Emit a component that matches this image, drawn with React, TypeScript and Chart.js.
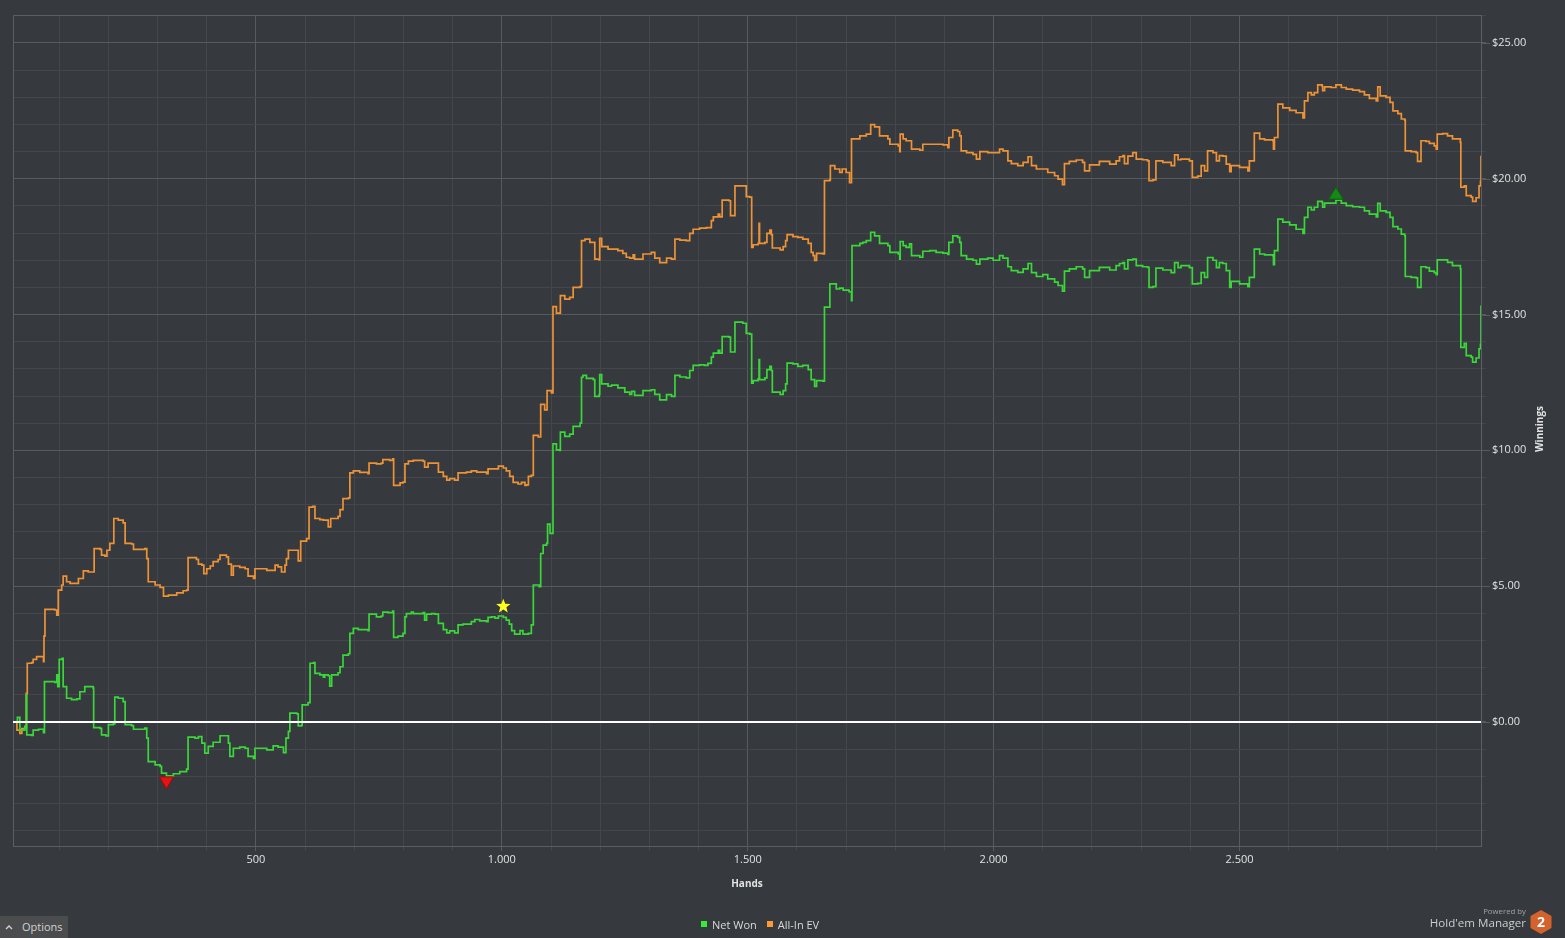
import React, { useEffect, useRef } from 'react';
import { Chart, registerables } from 'chart.js';

Chart.register(...registerables);

// ---- Data ----
const netHands = [7,15,20,30,33,34,44,47,58,68,70,91,95,97,100,106,108,115,125,136,142,152,169,170,183,186,195,200,210,213,220,230,234,247,251,264,274,278,281,295,305,308,318,332,345,359,362,376,383,390,396,403,413,427,437,444,447,454,467,478,484,495,498,522,535,545,556,561,566,569,583,586,593,594,606,610,617,620,630,637,640,647,650,654,667,671,677,688,691,698,708,728,730,745,755,758,769,778,780,789,799,803,806,816,820,840,843,847,857,864,871,881,888,894,904,911,921,938,945,955,969,972,979,986,993,1003,1009,1015,1020,1026,1037,1043,1054,1060,1064,1076,1079,1084,1091,1093,1098,1101,1104,1111,1118,1119,1128,1138,1145,1159,1162,1165,1172,1186,1189,1198,1199,1203,1216,1223,1236,1250,1260,1264,1270,1287,1304,1311,1321,1335,1345,1352,1362,1375,1382,1389,1402,1412,1419,1426,1430,1440,1443,1448,1462,1465,1472,1474,1484,1490,1497,1504,1508,1511,1521,1523,1524,1535,1539,1545,1548,1550,1562,1566,1572,1577,1580,1592,1602,1612,1623,1629,1636,1640,1653,1656,1667,1680,1687,1694,1706,1711,1712,1728,1734,1741,1750,1758,1768,1785,1789,1799,1806,1809,1810,1816,1822,1829,1833,1850,1856,1870,1883,1897,1907,1909,1917,1927,1931,1934,1945,1958,1965,1972,1988,1999,2012,2019,2029,2036,2049,2060,2070,2077,2087,2100,2110,2124,2131,2140,2144,2154,2168,2181,2185,2191,2195,2215,2236,2249,2256,2263,2266,2273,2283,2290,2303,2313,2316,2324,2330,2344,2361,2368,2375,2381,2398,2404,2415,2422,2429,2435,2446,2453,2459,2466,2473,2480,2483,2500,2517,2520,2530,2541,2551,2568,2569,2571,2578,2588,2602,2615,2629,2632,2639,2646,2652,2659,2668,2669,2673,2686,2696,2707,2717,2730,2744,2754,2764,2778,2781,2786,2798,2806,2812,2822,2829,2836,2837,2849,2859,2862,2869,2879,2886,2896,2900,2902,2913,2923,2933,2949,2950,2957,2961,2971,2974,2981,2987,2990,2991];
const netWon = [0,0.17,-0.3,-0.17,1.0,-0.48,-0.5,-0.3,-0.27,-0.4,1.48,1.45,1.73,1.3,2.3,2.34,1.3,0.87,0.82,0.85,1.11,1.3,1.24,-0.21,-0.24,-0.48,-0.52,-0.1,-0.07,0.91,0.87,0.75,-0.1,-0.14,-0.27,-0.27,-0.23,-0.6,-1.46,-1.58,-1.64,-1.89,-1.99,-1.91,-1.83,-1.74,-0.56,-0.6,-0.54,-0.78,-1.15,-0.9,-0.75,-0.51,-0.51,-0.78,-1.27,-0.97,-0.93,-0.97,-1.27,-1.34,-0.97,-1.03,-0.88,-0.93,-1.13,-0.6,-0.35,0.32,0.3,-0.15,-0.12,0.63,0.71,2.16,2.18,1.79,1.73,1.65,1.73,1.7,1.32,1.73,1.81,2.03,2.46,2.51,3.26,3.44,3.4,3.36,3.97,3.87,3.9,4.04,4.02,4.08,3.11,3.16,3.26,3.87,3.99,4.04,3.99,4.02,3.75,3.97,3.99,3.97,3.63,3.4,3.28,3.35,3.28,3.57,3.6,3.69,3.77,3.72,3.69,3.85,3.87,3.82,3.9,3.85,3.75,3.6,3.36,3.23,3.36,3.23,3.26,3.57,5.04,4.98,6.2,6.51,6.57,7.28,6.94,6.94,10.24,10.02,10.0,10.67,10.51,10.6,10.88,11.0,12.69,12.76,12.65,12.6,11.99,12.05,12.79,12.45,12.36,12.4,12.3,12.14,12.06,12.17,12.02,12.2,12.23,12.06,11.86,12.05,11.99,12.76,12.7,12.67,12.94,13.13,13.15,13.13,13.2,13.43,13.58,13.68,13.58,14.19,14.17,13.62,13.62,14.72,14.72,14.68,14.31,14.28,12.47,12.57,12.63,13.34,12.6,12.67,12.97,13.09,12.94,12.14,12.14,12.06,12.2,12.45,13.21,13.18,13.09,13.13,12.97,12.6,12.35,12.57,12.55,15.27,16.13,15.94,15.97,15.9,15.84,15.51,17.54,17.62,17.66,17.72,18.03,17.9,17.62,17.54,17.29,17.29,17.23,17.04,17.69,17.54,17.47,17.6,17.17,17.11,17.33,17.35,17.29,17.26,17.21,17.66,17.9,17.84,17.66,17.17,17.04,17.0,16.86,17.04,17.08,17.0,17.17,17.08,16.76,16.62,16.55,16.68,16.88,16.54,16.4,16.47,16.31,16.19,16.07,15.86,16.6,16.68,16.76,16.68,16.37,16.37,16.62,16.74,16.64,16.8,16.88,16.91,16.68,17.01,17.04,16.8,16.76,16.74,16.0,16.03,16.71,16.64,16.54,16.91,16.73,16.8,16.73,16.13,16.15,16.54,16.37,17.1,17.0,16.73,16.91,16.88,16.62,16.0,16.22,16.13,16.03,16.37,17.41,17.23,17.2,17.17,16.84,17.35,18.51,18.4,18.3,18.14,17.99,18.58,18.95,18.85,18.95,19.17,19.13,18.95,19.1,19.1,19.21,19.1,19.01,18.97,18.95,18.82,18.7,18.6,19.09,18.82,18.76,18.58,18.24,18.15,17.96,17.9,16.4,16.37,16.35,16.0,16.76,16.73,16.6,16.54,16.47,17.01,17.01,16.92,16.8,16.68,13.79,13.94,13.49,13.43,13.25,13.4,13.74,13.9,15.33];

const evHands = [7,14,20,24,30,33,35,44,47,54,64,68,69,71,91,95,98,105,108,115,122,132,139,149,159,168,171,183,186,193,197,203,211,220,230,234,247,251,264,274,278,281,295,305,312,322,339,352,359,362,379,383,390,394,400,407,413,423,427,440,444,450,454,467,478,484,495,498,522,539,545,552,559,562,566,583,586,591,603,608,616,620,630,637,647,652,667,671,677,688,691,698,711,728,730,745,755,758,772,778,780,793,799,803,810,820,840,843,850,864,871,881,888,894,904,911,928,938,949,969,972,986,993,1003,1009,1016,1023,1033,1040,1047,1050,1054,1060,1064,1074,1079,1087,1092,1101,1104,1111,1118,1119,1128,1138,1145,1159,1162,1169,1179,1187,1189,1198,1199,1203,1216,1226,1236,1246,1253,1260,1267,1270,1287,1304,1311,1321,1335,1345,1352,1362,1375,1382,1389,1402,1416,1426,1430,1440,1443,1448,1462,1465,1472,1474,1490,1497,1504,1508,1511,1521,1523,1524,1535,1539,1545,1548,1550,1562,1566,1572,1577,1580,1592,1602,1612,1623,1629,1633,1636,1640,1653,1656,1667,1668,1677,1687,1692,1700,1707,1711,1728,1734,1741,1750,1758,1768,1785,1789,1799,1806,1809,1810,1816,1822,1829,1833,1850,1856,1870,1883,1897,1907,1909,1917,1927,1931,1934,1945,1958,1965,1972,1988,1999,2012,2019,2029,2036,2049,2060,2070,2077,2087,2100,2110,2124,2131,2140,2144,2154,2168,2181,2185,2191,2195,2215,2236,2249,2256,2263,2266,2273,2283,2290,2303,2313,2316,2324,2330,2344,2361,2368,2375,2381,2398,2404,2415,2422,2429,2435,2446,2453,2459,2466,2473,2480,2483,2500,2517,2520,2530,2541,2551,2568,2569,2571,2578,2588,2602,2615,2629,2632,2639,2646,2652,2659,2668,2669,2673,2686,2696,2707,2717,2730,2744,2754,2764,2778,2781,2786,2798,2806,2812,2822,2829,2836,2837,2849,2859,2862,2869,2879,2886,2896,2900,2902,2913,2923,2933,2949,2950,2957,2961,2971,2974,2981,2987,2990,2991];
const allInEV = [0,-0.3,-0.42,-0.25,-0.17,1.05,2.16,2.18,2.3,2.4,2.4,2.22,3.16,4.14,4.12,3.93,4.85,5.04,5.37,5.16,5.1,5.1,5.28,5.56,5.52,5.52,6.38,6.35,6.14,6.1,6.32,6.57,7.49,7.43,7.33,6.57,6.55,6.35,6.35,6.38,6.01,5.16,5.04,4.95,4.63,4.67,4.75,4.83,4.85,6.05,5.98,5.81,5.77,5.46,5.64,5.74,5.9,5.98,6.14,6.08,5.81,5.4,5.74,5.69,5.64,5.37,5.28,5.64,5.58,5.77,5.71,5.52,5.77,6.01,6.32,6.32,5.93,6.66,6.75,7.91,7.94,7.49,7.45,7.43,7.18,7.49,7.57,7.82,8.22,8.25,9.17,9.24,9.19,9.14,9.53,9.5,9.53,9.66,9.63,9.69,8.71,8.8,8.83,9.5,9.6,9.63,9.6,9.38,9.53,9.53,9.2,9.04,8.9,8.96,8.9,9.17,9.2,9.24,9.2,9.14,9.32,9.32,9.42,9.35,9.24,9.04,8.82,8.76,8.82,8.71,8.73,9.04,9.08,10.55,10.49,11.69,11.49,12.2,12.11,15.29,15.05,15.05,15.7,15.57,15.63,16.0,16.03,17.72,17.78,17.66,17.66,17.04,17.01,17.81,17.5,17.41,17.41,17.35,17.25,17.11,17.08,17.2,17.04,17.23,17.29,17.08,16.91,17.08,17.04,17.78,17.74,17.72,17.99,18.14,18.18,18.2,18.46,18.6,18.7,18.6,19.21,19.19,18.64,18.64,19.74,19.74,19.34,19.32,17.47,17.57,17.62,18.36,17.62,17.66,17.99,18.11,17.94,17.45,17.45,17.38,17.5,17.72,17.94,17.87,17.84,17.78,17.62,17.29,17.17,16.99,17.25,17.23,19.93,19.96,20.48,20.36,20.23,20.36,20.23,19.86,21.47,21.58,21.58,21.64,21.99,21.91,21.58,21.47,21.27,21.27,21.21,21.0,21.64,21.47,21.4,21.4,21.09,21.05,21.27,21.27,21.27,21.25,21.15,21.52,21.79,21.74,21.58,21.03,20.96,20.9,20.72,21.0,20.96,20.96,21.09,21.03,20.66,20.56,20.48,20.6,20.81,20.48,20.36,20.36,20.23,20.11,19.99,19.78,20.56,20.64,20.69,20.6,20.29,20.29,20.51,20.64,20.54,20.66,20.81,20.85,20.56,20.83,20.96,20.72,20.7,20.66,19.93,19.96,20.66,20.6,20.48,20.88,20.7,20.72,20.66,20.05,20.1,20.48,20.29,21.03,20.96,20.66,20.85,20.83,20.54,20.26,20.48,20.42,20.29,20.66,21.68,21.47,21.43,21.4,21.09,21.52,22.75,22.61,22.52,22.43,22.24,22.87,23.17,23.09,23.17,23.46,23.4,23.24,23.38,23.36,23.46,23.36,23.3,23.26,23.21,23.09,22.96,22.87,23.38,23.05,23.0,22.81,22.5,22.4,22.2,22.16,21.03,21.0,20.96,20.64,21.4,21.38,21.3,21.21,21.09,21.64,21.66,21.58,21.47,21.34,19.69,19.74,19.38,19.32,19.17,19.3,19.74,19.9,20.85];

// Markers: lowest point, highlighted hand, highest point (Net Won)
const markerHands = [318, 1003, 2696];
const markerValues = [-1.99, 3.85, 19.21];
const markerKinds = ['low', 'star', 'high'];

const seriesLabels = ['Net Won', 'All-In EV'];
const xAxisTitle = 'Hands';
const yAxisTitle = 'Winnings';

// ---- Styles ----
const BG = '#363a3e';
const MAJOR = '#575b60';
const MINOR = '#43474b';
const FRAME = '#5b5f63';
const TEXT = '#e2e2e2';
const GREEN = '#3ad63a';
const ORANGE = '#ee9236';
const FONT = '"Open Sans", "DejaVu Sans", sans-serif';

function fmtHands(v: number): string {
  if (v >= 1000) {
    const t = Math.floor(v / 1000);
    const r = String(v % 1000).padStart(3, '0');
    return `${t}.${r}`;
  }
  return String(v);
}

const overlayPlugin = {
  id: 'hmOverlay',
  afterDatasetsDraw(chart: any) {
    const { ctx, chartArea, scales } = chart;
    const { left, right, top, bottom } = chartArea;
    const x = scales.x;
    const y = scales.y;
    ctx.save();
    // frame (top & left)
    ctx.strokeStyle = FRAME;
    ctx.lineWidth = 1;
    ctx.beginPath();
    ctx.moveTo(Math.round(left) + 0.5, bottom);
    ctx.lineTo(Math.round(left) + 0.5, Math.round(top) + 0.5);
    ctx.lineTo(right, Math.round(top) + 0.5);
    ctx.stroke();
    // longer ticks on the major y values
    y.ticks.forEach((t: any) => {
      if (Math.abs(t.value % 5) < 1e-9) {
        const py = Math.round(y.getPixelForValue(t.value)) + 0.5;
        ctx.strokeStyle = MAJOR;
        ctx.beginPath();
        ctx.moveTo(right, py);
        ctx.lineTo(right + 9, py);
        ctx.stroke();
      }
    });
    // zero line
    const y0 = y.getPixelForValue(0);
    ctx.strokeStyle = '#ffffff';
    ctx.lineWidth = 2;
    ctx.beginPath();
    ctx.moveTo(left, y0);
    ctx.lineTo(right, y0);
    ctx.stroke();
    // markers
    markerHands.forEach((h, i) => {
      const px = x.getPixelForValue(h);
      const py = y.getPixelForValue(markerValues[i]);
      const kind = markerKinds[i];
      ctx.lineWidth = 1;
      if (kind === 'low') {
        const cy = py + 7;
        ctx.fillStyle = '#e41414';
        ctx.strokeStyle = '#9c0a0a';
        ctx.beginPath();
        ctx.moveTo(px - 7, cy - 6);
        ctx.lineTo(px + 7, cy - 6);
        ctx.lineTo(px, cy + 6);
        ctx.closePath();
        ctx.fill();
        ctx.stroke();
      } else if (kind === 'high') {
        const cy = py - 7;
        ctx.fillStyle = '#158815';
        ctx.strokeStyle = '#0d5c0d';
        ctx.beginPath();
        ctx.moveTo(px - 7.5, cy + 6);
        ctx.lineTo(px + 7.5, cy + 6);
        ctx.lineTo(px, cy - 6);
        ctx.closePath();
        ctx.fill();
        ctx.stroke();
      } else {
        const cy = py - 11;
        const ro = 7.5;
        const ri = 3.2;
        ctx.fillStyle = '#ffff1e';
        ctx.beginPath();
        for (let k = 0; k < 10; k++) {
          const r = k % 2 === 0 ? ro : ri;
          const a = -Math.PI / 2 + (k * Math.PI) / 5;
          const qx = px + r * Math.cos(a);
          const qy = cy + r * Math.sin(a);
          if (k === 0) ctx.moveTo(qx, qy);
          else ctx.lineTo(qx, qy);
        }
        ctx.closePath();
        ctx.fill();
      }
    });
    // y axis title (reads bottom-to-top)
    ctx.translate(1540, 429);
    ctx.rotate(-Math.PI / 2);
    ctx.font = `bold 10px ${FONT}`;
    ctx.fillStyle = TEXT;
    ctx.textAlign = 'center';
    ctx.textBaseline = 'middle';
    ctx.fillText(yAxisTitle, 0, 0);
    ctx.restore();
  },
};

export default function App() {
  const ref = useRef<HTMLCanvasElement>(null);

  useEffect(() => {
    document.body.style.margin = '0';
    document.body.style.background = BG;
    const canvas = ref.current;
    if (!canvas) return;
    const chart = new Chart(canvas, {
      type: 'line',
      data: {
        datasets: [
          {
            label: seriesLabels[0],
            data: netHands.map((h, i) => ({ x: h, y: netWon[i] })),
            borderColor: GREEN,
            backgroundColor: GREEN,
            borderWidth: 1.7,
            pointRadius: 0,
            stepped: 'before',
            fill: false,
          },
          {
            label: seriesLabels[1],
            data: evHands.map((h, i) => ({ x: h, y: allInEV[i] })),
            borderColor: ORANGE,
            backgroundColor: ORANGE,
            borderWidth: 1.7,
            pointRadius: 0,
            stepped: 'before',
            fill: false,
          },
        ],
      },
      options: {
        responsive: false,
        animation: false,
        events: [],
        layout: { padding: { left: 13, top: 15, right: 0, bottom: 0 } },
        plugins: { legend: { display: false }, tooltip: { enabled: false } },
        scales: {
          x: {
            type: 'linear',
            min: 6,
            max: 2991,
            ticks: {
              stepSize: 100,
              autoSkip: false,
              maxRotation: 0,
              includeBounds: false,
              color: TEXT,
              padding: 2,
              font: { family: FONT, size: 11 },
              callback: (v: any) => (Number(v) % 500 === 0 ? fmtHands(Number(v)) : ''),
            },
            grid: {
              color: (c: any) => (c.tick && c.tick.value % 500 === 0 ? MAJOR : MINOR),
              tickColor: (c: any) => (c.tick && c.tick.value % 500 === 0 ? MAJOR : MINOR),
              tickLength: 5,
              lineWidth: 1,
            },
            border: { display: true, color: FRAME },
            title: {
              display: true,
              text: xAxisTitle,
              color: TEXT,
              font: { family: FONT, size: 10, weight: 'bold' },
              padding: { top: 0, bottom: 48 },
            },
            afterFit: (s: any) => {
              s.height = 92;
            },
          },
          y: {
            type: 'linear',
            position: 'right',
            min: -4.57,
            max: 26.03,
            ticks: {
              stepSize: 1,
              autoSkip: false,
              includeBounds: false,
              color: TEXT,
              padding: 6,
              font: { family: FONT, size: 11 },
              callback: (v: any) => {
                const n = Number(v);
                return Math.abs(n % 5) < 1e-9 ? `$${n.toFixed(2)}` : '';
              },
            },
            grid: {
              color: (c: any) => (c.tick && Math.abs(c.tick.value % 5) < 1e-9 ? MAJOR : MINOR),
              tickColor: (c: any) => (c.tick && Math.abs(c.tick.value % 5) < 1e-9 ? MAJOR : MINOR),
              tickLength: 5,
              lineWidth: 1,
            },
            border: { display: true, color: FRAME },
            afterFit: (s: any) => {
              s.width = 84;
            },
          },
        },
      } as any,
      plugins: [overlayPlugin],
    });
    return () => chart.destroy();
  }, []);

  const sq = (color: string) => (
    <span style={{ display: 'inline-block', width: 6, height: 6, background: color, marginRight: 5 }} />
  );

  return (
    <div
      style={{
        position: 'relative',
        width: 1565,
        height: 938,
        background: BG,
        overflow: 'hidden',
        fontFamily: FONT,
      }}
    >
      <canvas
        ref={ref}
        width={1565}
        height={938}
        style={{ position: 'absolute', left: 0, top: 0, width: 1565, height: 938 }}
      />
      {/* legend */}
      <div
        style={{
          position: 'absolute',
          left: 701,
          top: 916,
          height: 16,
          display: 'flex',
          alignItems: 'center',
          fontSize: 11,
          color: '#d8d8d8',
          whiteSpace: 'nowrap',
        }}
      >
        {sq('#33ee33')}
        <span style={{ marginRight: 10 }}>{seriesLabels[0]}</span>
        {sq('#ff9933')}
        <span>{seriesLabels[1]}</span>
      </div>
      {/* options button */}
      <div
        style={{
          position: 'absolute',
          left: 0,
          top: 916,
          width: 68,
          height: 22,
          background: '#4b4c4e',
          display: 'flex',
          alignItems: 'center',
          fontSize: 11,
          color: '#d2d2d2',
        }}
      >
        <svg width="8" height="6" style={{ marginLeft: 5, marginRight: 9 }}>
          <polyline points="1,5 4,2 7,5" fill="none" stroke="#d2d2d2" strokeWidth="1.4" />
        </svg>
        <span style={{ position: 'relative', top: -1 }}>Options</span>
      </div>
      {/* branding */}
      <div
        style={{
          position: 'absolute',
          right: 1565 - 1526,
          top: 906,
          fontSize: 7.8,
          color: '#a2a2a2',
          whiteSpace: 'nowrap',
          lineHeight: '10px',
        }}
      >
        Powered by
      </div>
      <div
        style={{
          position: 'absolute',
          right: 1565 - 1526,
          top: 914,
          fontSize: 11.6,
          color: '#cccccc',
          whiteSpace: 'nowrap',
          lineHeight: '18px',
        }}
      >
        Hold'em Manager
      </div>
      <svg width="24" height="26" style={{ position: 'absolute', left: 1529, top: 909 }}>
        <polygon points="12,1 22.5,7 22.5,19 12,25 1.5,19 1.5,7" fill="#d4622c" />
        <text x="12" y="18" textAnchor="middle" fontSize="14" fontWeight="bold" fill="#ffffff" fontFamily={FONT}>
          2
        </text>
      </svg>
    </div>
  );
}
